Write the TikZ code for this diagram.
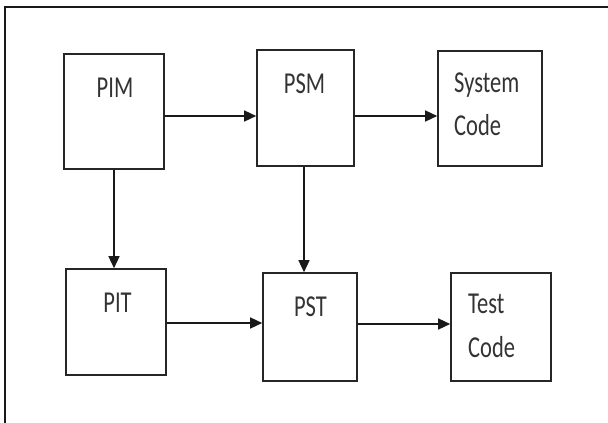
\documentclass[tikz,border=0pt]{standalone}
\usepackage{fontspec}
\setmainfont{Carlito}
\usetikzlibrary{arrows.meta}
\newcommand{\tallt}[1]{\scalebox{1}[1.35]{#1}}
\tikzset{
  blk/.style={draw=black!85, line width=1.6pt, minimum width=#1, inner sep=0pt},
  lbl/.style={inner sep=0pt, text=black!80, font=\fontsize{22.5}{27}\selectfont},
  conn/.style={draw=black!90, line width=1.4pt, -{Triangle[length=12pt,width=11pt]}},
  frame/.style={draw=black!90, line width=2pt}
}
\begin{document}
\begin{tikzpicture}[x=1pt,y=-1pt]
\useasboundingbox (0,0) rectangle (608,423);
% outer frame (top and left only)
\coordinate (fTR) at (608,7);
\coordinate (fTL) at (5,7);
\coordinate (fBL) at (5,423);
\draw[frame] (fTR) -- (fTL) -- (fBL);
% boxes
\node[blk=100pt, minimum height=115pt] (PIM) at (114,111.5) {};
\node[blk=97pt, minimum height=116pt] (PSM) at (305.5,108) {};
\node[blk=104pt, minimum height=115pt] (SC) at (490,108.5) {};
\node[blk=100pt, minimum height=106pt] (PIT) at (116,322) {};
\node[blk=94pt, minimum height=108pt] (PST) at (310,327) {};
\node[blk=100pt, minimum height=108pt] (TC) at (501,327) {};
% labels
\node[lbl, anchor=base] (tPIM) at (115,97) {\tallt{PIM}};
\node[lbl, anchor=base] (tPSM) at (304.5,93) {\tallt{PSM}};
\node[lbl, anchor=base west] (tSys) at (454,92) {\tallt{System}};
\node[lbl, anchor=base west] (tCode1) at (454,135) {\tallt{Code}};
\node[lbl, anchor=base] (tPIT) at (117.5,312) {\tallt{PIT}};
\node[lbl, anchor=base] (tPST) at (310.5,316) {\tallt{PST}};
\node[lbl, anchor=base west] (tTest) at (468,313) {\tallt{Test}};
\node[lbl, anchor=base west] (tCode2) at (468,357) {\tallt{Code}};
% connectors
\draw[conn] (PIM.east |- 0,116) -- (PSM.west |- 0,116);
\draw[conn] (PSM.east |- 0,116) -- (SC.west |- 0,116);
\draw[conn] (PIM.south -| 114,0) -- (PIT.north -| 114,0);
\draw[conn] (PSM.south -| 304,0) -- (PST.north -| 304,0);
\draw[conn] (PIT.east |- 0,323) -- (PST.west |- 0,323);
\draw[conn] (PST.east |- 0,324) -- (TC.west |- 0,324);
\end{tikzpicture}
\end{document}
